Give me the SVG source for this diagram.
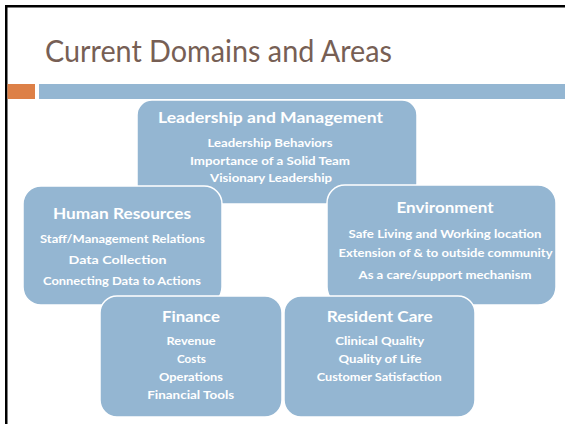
<svg xmlns="http://www.w3.org/2000/svg" width="565" height="424" viewBox="0 0 565 424">
<style>
.box{fill:#94b6d2;stroke:#ffffff;stroke-width:1.5}
.h{font-family:Lato,"Liberation Sans",sans-serif;font-weight:bold;font-size:15px;fill:#ffffff;text-anchor:middle}
.s{font-family:Lato,"Liberation Sans",sans-serif;font-weight:bold;font-size:10.5px;fill:#ffffff;text-anchor:middle}
</style>
<rect x="0" y="0" width="565" height="424" fill="#ffffff"/>
<rect x="5" y="5" width="560" height="2.5" fill="#000000"/>
<rect x="5" y="5" width="2.5" height="419" fill="#000000"/>
<text x="45" y="62" font-family="Lato,'Liberation Sans',sans-serif" font-size="30" fill="#775f55" textLength="347" lengthAdjust="spacingAndGlyphs">Current Domains and Areas</text>
<rect x="7.5" y="84" width="27.5" height="15" fill="#dd8047"/>
<rect x="39" y="84" width="526" height="15" fill="#94b6d2"/>
<g id="leadership">
<rect class="box" x="137" y="100" width="280" height="104" rx="15"/>
<text class="h" x="270.5" y="122.5" textLength="225" lengthAdjust="spacingAndGlyphs">Leadership and Management</text>
<text class="s" x="270" y="146.5" textLength="125" lengthAdjust="spacingAndGlyphs">Leadership Behaviors</text>
<text class="s" x="270" y="164.5" textLength="160" lengthAdjust="spacingAndGlyphs">Importance of a Solid Team</text>
<text class="s" x="271" y="181.5" textLength="122" lengthAdjust="spacingAndGlyphs">Visionary Leadership</text>
</g>
<g id="hr">
<rect class="box" x="23" y="186" width="199" height="119" rx="18"/>
<text class="h" x="122" y="219" textLength="138" lengthAdjust="spacingAndGlyphs">Human Resources</text>
<text class="s" x="122.5" y="243.3" textLength="165" lengthAdjust="spacingAndGlyphs">Staff/Management Relations</text>
<text class="s" x="117.5" y="263.5" textLength="98" lengthAdjust="spacingAndGlyphs">Data Collection</text>
<text class="s" x="122" y="284.5" textLength="158" lengthAdjust="spacingAndGlyphs">Connecting Data to Actions</text>
</g>
<g id="environment">
<rect class="box" x="327" y="185" width="229" height="120" rx="18"/>
<text class="h" x="445" y="213.3" textLength="97" lengthAdjust="spacingAndGlyphs">Environment</text>
<text class="s" x="445" y="237.5" textLength="193" lengthAdjust="spacingAndGlyphs">Safe Living and Working location</text>
<text class="s" x="445.5" y="256.5" textLength="214" lengthAdjust="spacingAndGlyphs">Extension of &amp; to outside community</text>
<text class="s" x="445" y="278.5" textLength="173" lengthAdjust="spacingAndGlyphs">As a care/support mechanism</text>
</g>
<g id="finance">
<rect class="box" x="100" y="296" width="182" height="121" rx="17"/>
<text class="h" x="191" y="321.7" textLength="58" lengthAdjust="spacingAndGlyphs">Finance</text>
<text class="s" x="191" y="345" textLength="49" lengthAdjust="spacingAndGlyphs">Revenue</text>
<text class="s" x="191.5" y="363.3" textLength="29" lengthAdjust="spacingAndGlyphs">Costs</text>
<text class="s" x="191" y="380.7" textLength="64" lengthAdjust="spacingAndGlyphs">Operations</text>
<text class="s" x="190.7" y="399.3" textLength="87" lengthAdjust="spacingAndGlyphs">Financial Tools</text>
</g>
<g id="resident-care">
<rect class="box" x="284" y="296" width="191" height="121" rx="17"/>
<text class="h" x="379.7" y="321.7" textLength="106" lengthAdjust="spacingAndGlyphs">Resident Care</text>
<text class="s" x="379.7" y="345" textLength="89" lengthAdjust="spacingAndGlyphs">Clinical Quality</text>
<text class="s" x="380" y="363.3" textLength="83" lengthAdjust="spacingAndGlyphs">Quality of Life</text>
<text class="s" x="379.2" y="380.7" textLength="125" lengthAdjust="spacingAndGlyphs">Customer Satisfaction</text>
</g>
<g id="connectors"></g>
</svg>
